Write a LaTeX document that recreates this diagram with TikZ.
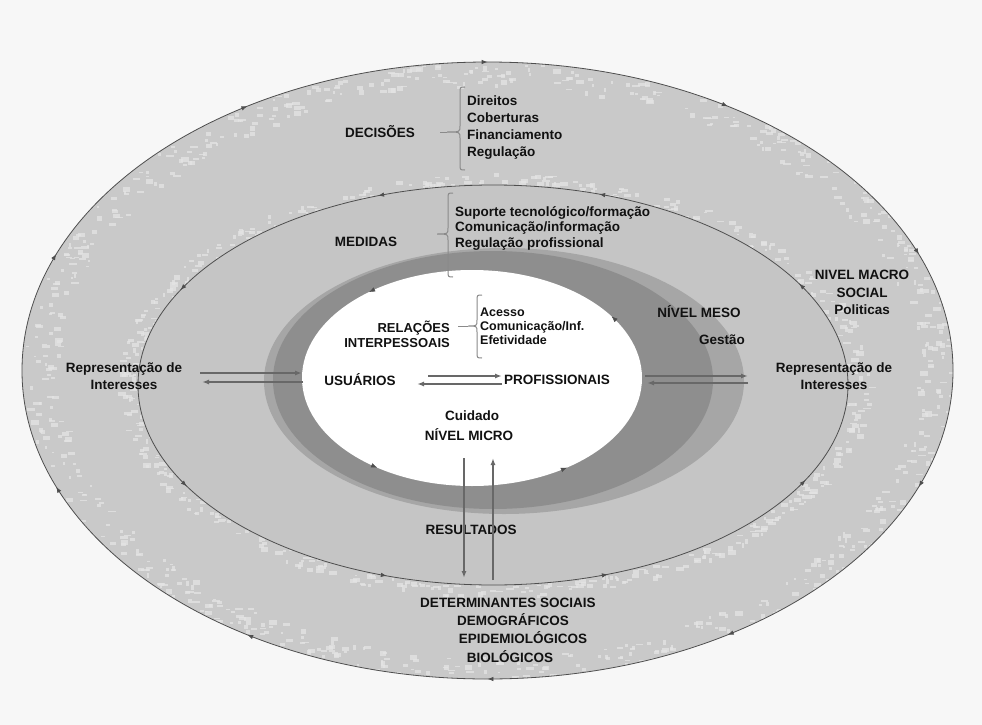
\documentclass[tikz,border=0pt]{standalone}
\usepackage{fontspec}
\setmainfont{Liberation Sans}
\usetikzlibrary{arrows.meta,decorations.markings}

\definecolor{bgc}{HTML}{F7F7F7}
\definecolor{outerc}{HTML}{C9C9C9}
\definecolor{speck}{HTML}{E4E4E4}
\definecolor{midc}{HTML}{C5C5C5}
\definecolor{bandlight}{HTML}{A6A6A6}
\definecolor{banddark}{HTML}{8E8E8E}
\definecolor{linec}{HTML}{4E4E4E}
\definecolor{arrc}{HTML}{686868}
\definecolor{bracec}{HTML}{8A8A8A}
\definecolor{txt}{HTML}{111111}

\newcommand{\mybrace}[5]{% spine x, top y, bottom y, tip x, tip y
  \draw[bracec, line width=1pt] (#1+5,#2) .. controls (#1,#2) .. (#1,#2+6) -- (#1,#5-6)
    .. controls (#1,#5) .. (#4,#5) .. controls (#1,#5) .. (#1,#5+6) -- (#1,#3-6)
    .. controls (#1,#3) .. (#1+5,#3);}

\tikzset{
  lbl/.style={font=\fontsize{13.5}{16}\selectfont\bfseries, text=txt, inner sep=0pt, align=center},
  conn/.style={draw=arrc, line width=1.4pt, -{Latex[length=7pt,width=5pt]}},
  cwarrows/.style={postaction={decorate}, decoration={markings,
      mark=between positions 0.05 and 0.99 step 0.1 with {\arrow{Latex[length=6pt,width=4.5pt]}}}},
  ccwarrows/.style={postaction={decorate}, decoration={markings,
      mark=between positions 0.06 and 0.99 step #1 with {\arrowreversed{Latex[length=6pt,width=4.5pt]}}}},
  innerarrows/.style={postaction={decorate}, decoration={markings,
      mark=at position 0.14 with {\arrowreversed{Latex[length=6pt,width=4.5pt]}},
      mark=at position 0.36 with {\arrowreversed{Latex[length=6pt,width=4.5pt]}},
      mark=at position 0.63 with {\arrowreversed{Latex[length=6pt,width=4.5pt]}},
      mark=at position 0.92 with {\arrowreversed{Latex[length=6pt,width=4.5pt]}}}},
  ring/.style={draw=linec, line width=0.8pt}
}

\begin{document}
\begin{tikzpicture}[x=1pt,y=-1pt]
\useasboundingbox (0,0) rectangle (982,725);
\fill[bgc] (0,0) rectangle (982,725);

% centres
\coordinate (Oc) at (487.5,370.5);
\coordinate (Mc) at (493,385);
\coordinate (Bl) at (504,381);
\coordinate (Bd) at (493,380);
\coordinate (Wc) at (472,378);

% outer ring
\fill[outerc] (Oc) ellipse [x radius=465.5, y radius=308.5];
\begin{scope}
  \clip (Oc) ellipse [x radius=465.5, y radius=308.5];
  \pgfmathsetseed{11}
  % speckles along the outer border
  \foreach \i in {1,...,700}{
    \pgfmathsetmacro{\ang}{rnd*360}
    \pgfmathsetmacro{\fr}{0.925+rnd*0.075}
    \pgfmathsetmacro{\px}{487.5+465.5*\fr*cos(\ang)}
    \pgfmathsetmacro{\py}{370.5+308.5*\fr*sin(\ang)}
    \pgfmathsetmacro{\w}{2+rnd*6}
    \pgfmathsetmacro{\h}{1+rnd*4}
    \fill[speck, opacity=0.75] (\px,\py) rectangle ++(\w,\h);
  }
  % speckles along the outside of the middle ellipse
  \foreach \i in {1,...,500}{
    \pgfmathsetmacro{\ang}{rnd*360}
    \pgfmathsetmacro{\fr}{1.0+rnd*0.06}
    \pgfmathsetmacro{\px}{493+355*\fr*cos(\ang)}
    \pgfmathsetmacro{\py}{385+200*\fr*sin(\ang)}
    \pgfmathsetmacro{\w}{2+rnd*6}
    \pgfmathsetmacro{\h}{1+rnd*4}
    \fill[speck, opacity=0.75] (\px,\py) rectangle ++(\w,\h);
  }
\end{scope}

% middle ring
\fill[midc] (Mc) ellipse [x radius=355, y radius=200];

% dark band around the inner level
\fill[bandlight] (Bl) ellipse [x radius=240, y radius=133];
\fill[banddark] (Bd) ellipse [x radius=220, y radius=129];

% inner white
\fill[white] (Wc) ellipse [x radius=170, y radius=108];

% ellipse lines with small arrow heads
\draw[ring, cwarrows] (Oc) ellipse [x radius=465.5, y radius=308.5];
\draw[ring, ccwarrows=0.125] (Mc) ellipse [x radius=355, y radius=200];
\path[color=linec, innerarrows] (Wc) ellipse [x radius=170, y radius=108];

% braces
\mybrace{460}{87}{170}{447}{132}
\draw[bracec, line width=1pt] (447,132) -- (440,132);
\mybrace{448}{193}{277}{437}{234}
\mybrace{477}{295}{358}{468}{326}
\draw[bracec, line width=1pt] (468,326) -- (458,326);

% texts
\node[lbl] (decisoes) at (380,132) {DECISÕES};
\node[lbl, align=left, anchor=west, font=\fontsize{13.5}{17}\selectfont\bfseries] (declist) at (467,128)
  {Direitos\\Coberturas\\Financiamento\\Regulação};
\node[lbl] (medidas) at (366,242) {MEDIDAS};
\node[lbl, align=left, anchor=west, font=\fontsize{13.5}{15.5}\selectfont\bfseries] (medlist) at (455,228)
  {Suporte tecnológico/formação\\Comunicação/informação\\Regulação profissional};
\node[lbl, align=right, anchor=east, font=\fontsize{13}{15}\selectfont\bfseries] (relacoes) at (450,334.5)
  {RELAÇÕES\\INTERPESSOAIS};
\node[lbl, align=left, anchor=west, font=\fontsize{12.5}{14}\selectfont\bfseries] (rellist) at (480,326)
  {Acesso\\Comunicação/Inf.\\Efetividade};
\node[lbl] (meso) at (699,312) {NÍVEL MESO};
\node[lbl] (gestao) at (722,340) {Gestão};
\node[lbl, font=\fontsize{13.5}{17.5}\selectfont\bfseries] (macro) at (862,292.5)
  {NIVEL MACRO\\SOCIAL\\Politicas};
\node[lbl, font=\fontsize{13.5}{17}\selectfont\bfseries] (reprL) at (124,376.5)
  {Representação de\\Interesses};
\node[lbl, font=\fontsize{13.5}{17}\selectfont\bfseries] (reprR) at (834,376.5)
  {Representação de\\Interesses};
\node[lbl] (usuarios) at (360,380) {USUÁRIOS};
\node[lbl] (profis) at (557,380) {PROFISSIONAIS};
\node[lbl] (cuidado) at (472,416) {Cuidado};
\node[lbl] (micro) at (469,435) {NÍVEL MICRO};
\node[lbl] (resultados) at (471,530) {RESULTADOS};
\node[lbl] (det1) at (508,603) {DETERMINANTES SOCIAIS};
\node[lbl] (det2) at (513,620) {DEMOGRÁFICOS};
\node[lbl] (det3) at (523,638) {EPIDEMIOLÓGICOS};
\node[lbl] (det4) at (510,657) {BIOLÓGICOS};

% connector end points
\coordinate (aL1s) at (200,373);
\coordinate (aL1e) at (302,373);
\coordinate (aL2s) at (303,382);
\coordinate (aL2e) at (202,382);
\coordinate (aR1s) at (645,376);
\coordinate (aR1e) at (748,376);
\coordinate (aR2s) at (748,383);
\coordinate (aR2e) at (647,383);
\coordinate (aC1s) at (428,376);
\coordinate (aC1e) at (502,376);
\coordinate (aC2s) at (502,384);
\coordinate (aC2e) at (417,384);
\coordinate (aV1s) at (464,458);
\coordinate (aV1e) at (464,578);
\coordinate (aV2s) at (493,580);
\coordinate (aV2e) at (493,458);

\draw[conn] (aL1s) -- (aL1e);
\draw[conn] (aL2s) -- (aL2e);
\draw[conn] (aR1s) -- (aR1e);
\draw[conn] (aR2s) -- (aR2e);
\draw[conn] (aC1s) -- (aC1e);
\draw[conn] (aC2s) -- (aC2e);
\draw[conn] (aV1s) -- (aV1e);
\draw[conn] (aV2s) -- (aV2e);
\end{tikzpicture}
\end{document}
